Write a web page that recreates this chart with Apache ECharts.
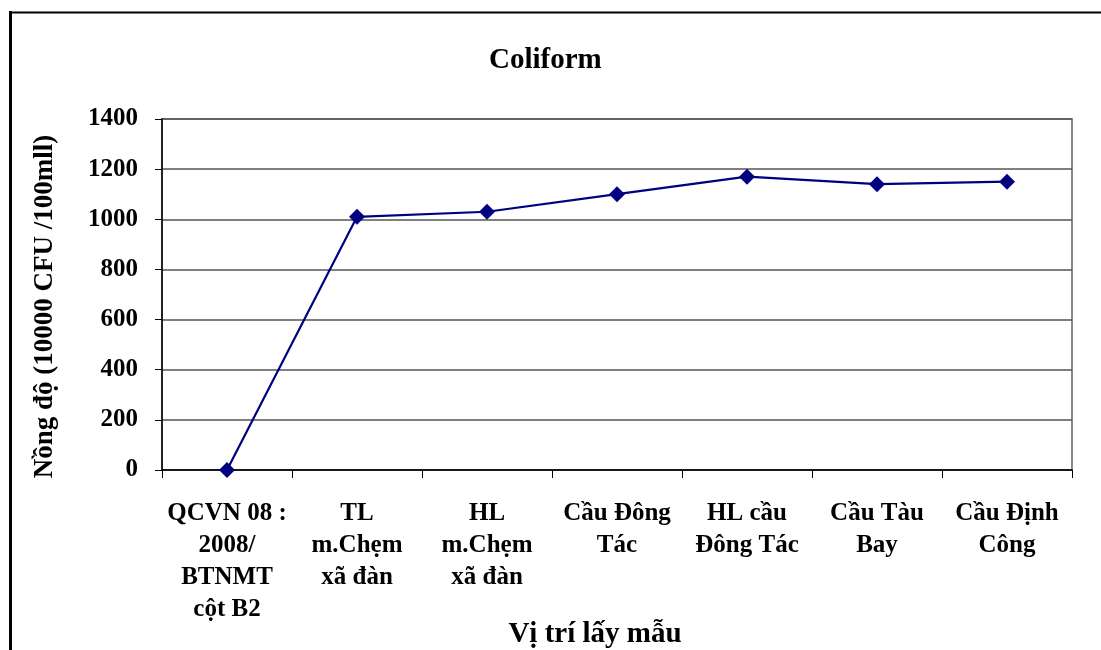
<!DOCTYPE html>
<html>
<head>
<meta charset="utf-8">
<script src="https://cdn.jsdelivr.net/npm/echarts@6/dist/echarts.min.js"></script>
<style>
html,body{margin:0;padding:0;background:#fff;}
#chart{width:1101px;height:650px;}
</style>
</head>
<body>
<div id="chart"></div>
<script>
const categories = ["QCVN 08 :\n2008/\nBTNMT\ncột B2", "TL\nm.Chẹm\nxã đàn", "HL\nm.Chẹm\nxã đàn", "Cầu Đông\nTác", "HL cầu\nĐông Tác", "Cầu Tàu\nBay", "Cầu Định\nCông"];
const coliform = [0, 1010, 1030, 1100, 1170, 1140, 1150];
const yTicks = {min: 0, max: 1400, interval: 200};
const titleText = "Coliform";
const yName = "Nồng độ (10000 CFU /100mll)";
const xName = "Vị trí lấy mẫu";

const FONT = '"Liberation Serif", "Times New Roman", serif';
const chart = echarts.init(document.getElementById('chart'), null, {renderer: 'canvas'});
chart.setOption({
  backgroundColor: '#fff',
  animation: false,
  title: {
    text: titleText,
    left: 489, top: 46,
    padding: 0,
    textStyle: {fontFamily: FONT, fontWeight: 'bold', fontSize: 29, color: '#000'}
  },
  grid: {left: 162, top: 119, right: 29, bottom: 180, outerBoundsMode: 'none', containLabel: false, show: true, borderColor: '#8a8a8a', borderWidth: 2, backgroundColor: 'transparent'},
  xAxis: {
    type: 'category',
    data: categories,
    name: xName,
    nameLocation: 'middle',
    nameMoveOverlap: false,
    nameGap: 150,
    nameTextStyle: {fontFamily: FONT, fontWeight: 'bold', fontSize: 29, color: '#000', padding: [0, 44, 0, 0]},
    axisLine: {lineStyle: {color: '#000', width: 1.5}},
    axisTick: {show: true, length: 8, lineStyle: {color: '#000', width: 1}},
    axisLabel: {interval: 0, margin: 28, fontFamily: FONT, fontWeight: 'bold', fontSize: 25, lineHeight: 32, color: '#000', align: 'center'},
    splitLine: {show: false}
  },
  yAxis: {
    type: 'value',
    min: yTicks.min, max: yTicks.max, interval: yTicks.interval,
    name: yName,
    nameLocation: 'middle',
    nameMoveOverlap: false,
    nameGap: 103,
    nameRotate: 90,
    nameTextStyle: {fontFamily: FONT, fontWeight: 'bold', fontSize: 27, color: '#000', padding: [0, 24, 0, 0]},
    axisLine: {show: true, lineStyle: {color: '#000', width: 1.5}},
    axisTick: {show: true, length: 7, lineStyle: {color: '#000', width: 1}},
    axisLabel: {margin: 24, fontFamily: FONT, fontWeight: 'bold', fontSize: 25, color: '#000', formatter: function (v) { return String(v); }},
    splitLine: {show: true, lineStyle: {color: '#555', width: 1.5}}
  },
  series: [{
    type: 'line',
    data: coliform,
    symbol: 'diamond',
    symbolSize: 16,
    lineStyle: {color: '#000080', width: 2.2},
    itemStyle: {color: '#000080'}
  }],
  graphic: [
    {type: 'line', shape: {x1: 10.5, y1: 11, x2: 10.5, y2: 650}, style: {stroke: '#000', lineWidth: 3}},
    {type: 'line', shape: {x1: 9, y1: 12.5, x2: 1101, y2: 12.5}, style: {stroke: '#000', lineWidth: 2}}
  ]
});
</script>
</body>
</html>
